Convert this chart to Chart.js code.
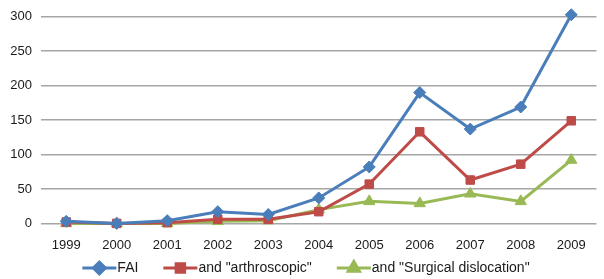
<!DOCTYPE html>
<html>
<head>
<meta charset="utf-8">
<script src="https://cdn.jsdelivr.net/npm/chart.js@4"></script>
<style>
  html, body { margin: 0; padding: 0; background: #fff; }
  #wrap { width: 604px; height: 279px; position: relative; }
</style>
</head>
<body>
<div id="wrap"><canvas id="chart"></canvas></div>
<script>
// Data
const years = ['1999', '2000', '2001', '2002', '2003', '2004', '2005', '2006', '2007', '2008', '2009'];
const faiValues = [3, 0, 4, 17, 13, 37, 82, 190, 137, 169, 303];
const arthroValues = [2, 0, 1, 6, 6, 17, 57, 133, 63, 86, 149];
const surgicalValues = [0, 0, 0, 3, 4, 20, 32, 29, 43, 32, 92];
const yTicks = [0, 50, 100, 150, 200, 250, 300];
const seriesNames = ['FAI', 'and "arthroscopic"', 'and "Surgical dislocation"'];

const FONT = "'Liberation Sans', Arial, sans-serif";

const series = [
  { label: seriesNames[0], data: faiValues, color: '#4a7ebb', style: 'rectRot', radius: 6 },
  { label: seriesNames[1], data: arthroValues, color: '#be4b48', style: 'rect', radius: 6 },
  { label: seriesNames[2], data: surgicalValues, color: '#98b954', style: 'triangle', radius: 6.5 }
];

// Legend drawn by hand so each entry shows a line with its marker
const lineLegend = {
  id: 'lineLegend',
  afterDraw(chart) {
    const ctx = chart.ctx;
    const y = 268;
    const lineLen = 34;
    ctx.save();
    ctx.font = '14px ' + FONT;
    ctx.textBaseline = 'middle';
    const gap = 25;
    const widths = series.map(s => lineLen + 1 + ctx.measureText(s.label).width);
    const total = widths.reduce((a, b) => a + b, 0) + gap * (series.length - 1);
    let x = (chart.width - total) / 2 + 4;
    series.forEach((s, i) => {
      ctx.strokeStyle = s.color;
      ctx.lineWidth = 3;
      ctx.beginPath();
      ctx.moveTo(x, y);
      ctx.lineTo(x + lineLen, y);
      ctx.stroke();
      ctx.fillStyle = s.color;
      Chart.helpers.drawPoint(ctx, { pointStyle: s.style, radius: s.radius, borderWidth: 1, rotation: 0 }, x + lineLen / 2, y);
      ctx.fillStyle = '#1a1a1a';
      ctx.fillText(s.label, x + lineLen + 1, y);
      x += widths[i] + gap;
    });
    ctx.restore();
  }
};

new Chart(document.getElementById('chart').getContext('2d'), {
  type: 'line',
  data: {
    labels: years,
    datasets: series.map(s => ({
      label: s.label,
      data: s.data,
      borderColor: s.color,
      backgroundColor: s.color,
      borderWidth: 3,
      pointStyle: s.style,
      pointRadius: s.radius,
      pointBorderWidth: 1,
      pointBorderColor: s.color,
      pointBackgroundColor: s.color,
      tension: 0,
      clip: false
    }))
  },
  options: {
    responsive: true,
    maintainAspectRatio: false,
    animation: false,
    layout: { padding: { top: 14, right: 0, left: 0, bottom: 12 } },
    plugins: {
      legend: { display: false },
      tooltip: { enabled: false }
    },
    scales: {
      x: {
        offset: true,
        grid: { display: false, drawTicks: false },
        border: { display: false },
        ticks: { color: '#1a1a1a', font: { family: FONT, size: 13 }, padding: 14, maxRotation: 0 }
      },
      y: {
        min: 0,
        max: 300,
        afterBuildTicks(scale) { scale.ticks = yTicks.map(v => ({ value: v })); },
        afterFit(scale) { scale.width = 41; },
        grid: { color: '#a6a6a6', lineWidth: 1.5, drawTicks: false },
        border: { display: false },
        ticks: { color: '#1a1a1a', font: { family: FONT, size: 13 }, padding: 9 }
      }
    }
  },
  plugins: [lineLegend]
});
</script>
</body>
</html>
